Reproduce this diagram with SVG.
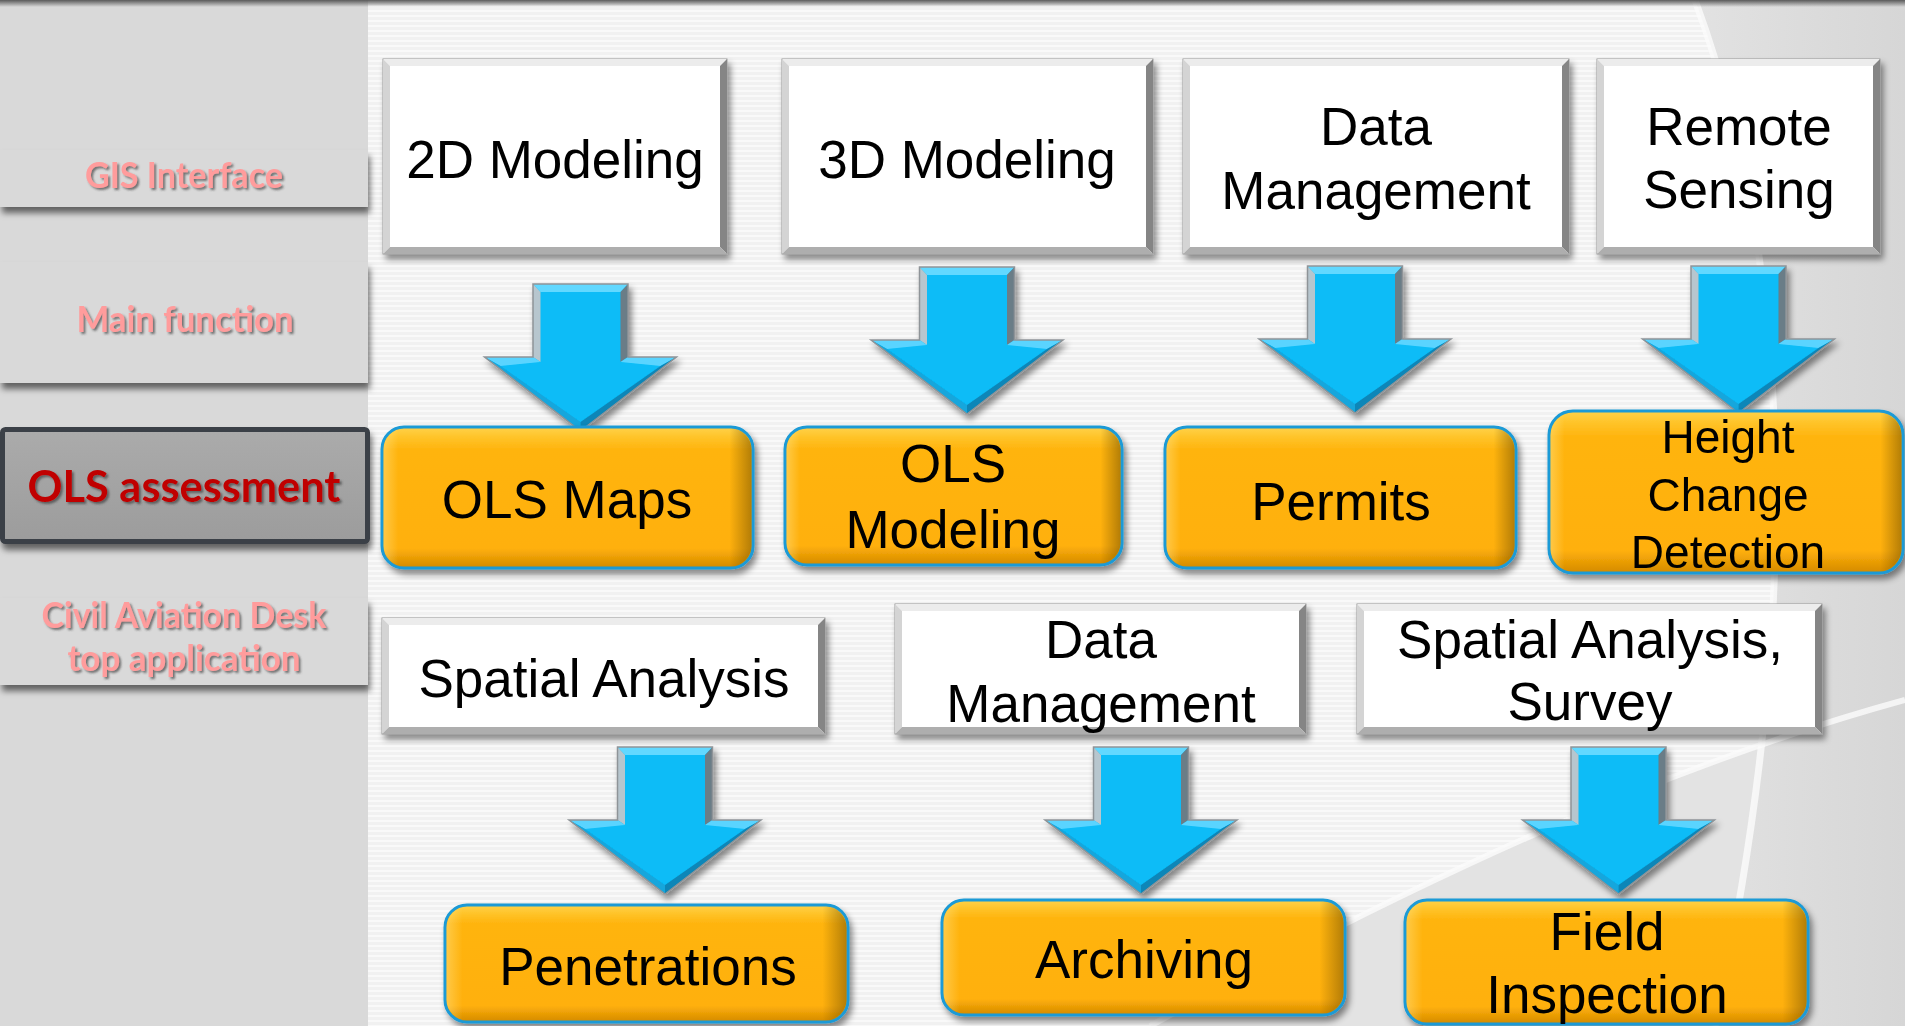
<svg xmlns="http://www.w3.org/2000/svg" xmlns:xlink="http://www.w3.org/1999/xlink" width="1905" height="1026" viewBox="0 0 1905 1026">
<style>
.lbl{font-family:Lato,"Open Sans","Liberation Sans",sans-serif;font-weight:700;text-anchor:middle;fill:#ff9c9c}
.t{font-family:"Liberation Sans",Arial,sans-serif;font-size:53px;text-anchor:middle;fill:#000}
.wb{fill:#fff;stroke:#9a9a9a;stroke-width:1}
.bt{fill:#ececec}.bl{fill:#d4d4d4}.br{fill:#858585}.bb{fill:#aeaeae}
.ob{fill:url(#og);stroke:#1a9ad6;stroke-width:3}
.oh{fill:url(#oh)}
.tile{fill:#d9d9d9}
</style>
<defs>
<pattern id="stripes" width="10" height="5" patternUnits="userSpaceOnUse">
<rect width="10" height="5" fill="#f1f1f1"/>
<rect width="10" height="2" fill="#f9f9f9"/>
</pattern>
<linearGradient id="topband" x1="0" y1="0" x2="0" y2="1">
<stop offset="0" stop-color="#5a5a5a"/>
<stop offset="1" stop-color="#5a5a5a" stop-opacity="0"/>
</linearGradient>
<linearGradient id="swg" x1="0" y1="0" x2="1" y2="0">
<stop offset="0" stop-color="#e2e2e2"/>
<stop offset="1" stop-color="#d6d6d6"/>
</linearGradient>
<linearGradient id="og" x1="0" y1="0" x2="0" y2="1">
<stop offset="0" stop-color="#ffd24a"/>
<stop offset="0.07" stop-color="#ffc42a"/>
<stop offset="0.16" stop-color="#ffb40e"/>
<stop offset="0.86" stop-color="#ffb00b"/>
<stop offset="1" stop-color="#d48a00"/>
</linearGradient>
<linearGradient id="oh" x1="0" y1="0" x2="1" y2="0">
<stop offset="0" stop-color="#fff3b0" stop-opacity="0.35"/>
<stop offset="0.04" stop-color="#fff3b0" stop-opacity="0"/>
<stop offset="0.94" stop-color="#6a4a00" stop-opacity="0"/>
<stop offset="1" stop-color="#6a4a00" stop-opacity="0.5"/>
</linearGradient>
<linearGradient id="olsg" x1="0" y1="0" x2="0" y2="1">
<stop offset="0" stop-color="#ababab"/>
<stop offset="1" stop-color="#9c9c9c"/>
</linearGradient>
<filter id="sh" x="-10%" y="-10%" width="125%" height="135%">
<feDropShadow dx="3" dy="5" stdDeviation="3" flood-color="#000" flood-opacity="0.45"/>
</filter>
<filter id="tsh" x="-10%" y="-20%" width="120%" height="150%">
<feDropShadow dx="2" dy="2" stdDeviation="1.2" flood-color="#3a3a3a" flood-opacity="0.65"/>
</filter>
<filter id="tilesh" x="-5%" y="-20%" width="112%" height="160%">
<feDropShadow dx="2" dy="6" stdDeviation="3" flood-color="#000" flood-opacity="0.55"/>
</filter>
<g id="arrow">
<path d="M-47.5,0 H47.5 V73 H96 L0,147 L-96,73 H-47.5 Z" fill="#07bcf7"/>
<polygon points="-47.5,0 47.5,0 40,8 -40,8" fill="#62d8ff"/>
<polygon points="-47.5,0 -40,8 -40,78 -47.5,73" fill="#b7c6ce"/>
<polygon points="47.5,0 47.5,73 40,78 40,8" fill="#6b7d87"/>
<polygon points="-96,73 -47.5,73 -40,78 -80,82" fill="#5ad4ff"/>
<polygon points="96,73 47.5,73 40,78 80,82" fill="#5ad4ff"/>
<polygon points="-96,73 0,147 0,138 -80,82" fill="#14a6dc"/>
<polygon points="96,73 0,147 0,138 80,82" fill="#0a86b8"/>
<path d="M-47.5,0 H47.5 V73 H96 L0,147 L-96,73 H-47.5 Z" fill="none" stroke="#8f9498" stroke-width="1.5"/>
</g>
</defs>

<!-- background -->
<rect x="0" y="0" width="1905" height="1026" fill="url(#stripes)"/>
<path d="M1150,1026 C1400,890 1650,770 1905,700 L1905,1026 Z" fill="#e3e3e3"/>
<path d="M1695,0 C1780,230 1815,560 1715,1026 L1905,1026 L1905,0 Z" fill="url(#swg)"/>
<path d="M1150,1026 C1400,890 1650,770 1905,700" fill="none" stroke="#fbfbfb" stroke-width="6" opacity="0.8"/>
<path d="M1695,0 C1780,230 1815,560 1715,1026" fill="none" stroke="#fbfbfb" stroke-width="7" opacity="0.8"/>
<rect x="0" y="0" width="368" height="1026" fill="#d9d9d9"/>
<rect x="0" y="0" width="1905" height="7" fill="url(#topband)"/>

<!-- left panel -->
<g id="tile-gis">
<rect class="tile" x="0" y="150" width="368" height="57" filter="url(#tilesh)"/>
<text class="lbl" x="184" y="188" font-size="36" textLength="198" lengthAdjust="spacingAndGlyphs" filter="url(#tsh)">GIS Interface</text>
</g>
<g id="tile-main">
<rect class="tile" x="0" y="262" width="368" height="121" filter="url(#tilesh)"/>
<text class="lbl" x="185" y="332" font-size="36" textLength="217" lengthAdjust="spacingAndGlyphs" filter="url(#tsh)">Main function</text>
</g>
<g id="tile-ols">
<rect x="2.5" y="429.5" width="365" height="112" rx="3" fill="url(#olsg)" stroke="#3b4046" stroke-width="5" filter="url(#tilesh)"/>
<text class="lbl" x="184" y="502" font-size="43" textLength="313" lengthAdjust="spacingAndGlyphs" style="fill:#c00000" filter="url(#tsh)">OLS assessment</text>
</g>
<g id="tile-civil">
<rect class="tile" x="0" y="598" width="368" height="87" filter="url(#tilesh)"/>
<text class="lbl" x="184" y="628" font-size="36" textLength="285" lengthAdjust="spacingAndGlyphs" filter="url(#tsh)">Civil Aviation Desk</text>
<text class="lbl" x="184" y="671" font-size="36" textLength="233" lengthAdjust="spacingAndGlyphs" filter="url(#tsh)">top application</text>
</g>

<!-- white boxes -->
<g id="n-2d">
<rect class="wb" x="383" y="59" width="344" height="195" filter="url(#sh)"/>
<polygon class="bt" points="383,59 727,59 720,66 390,66"/><polygon class="bl" points="383,59 390,66 390,247 383,254"/><polygon class="br" points="727,59 727,254 720,247 720,66"/><polygon class="bb" points="383,254 727,254 720,247 390,247"/>
<text class="t" x="555" y="178">2D Modeling</text>
</g>
<g id="n-3d">
<rect class="wb" x="782" y="59" width="371" height="195" filter="url(#sh)"/>
<polygon class="bt" points="782,59 1153,59 1146,66 789,66"/><polygon class="bl" points="782,59 789,66 789,247 782,254"/><polygon class="br" points="1153,59 1153,254 1146,247 1146,66"/><polygon class="bb" points="782,254 1153,254 1146,247 789,247"/>
<text class="t" x="967" y="178">3D Modeling</text>
</g>
<g id="n-dm1">
<rect class="wb" x="1183" y="59" width="386" height="195" filter="url(#sh)"/>
<polygon class="bt" points="1183,59 1569,59 1562,66 1190,66"/><polygon class="bl" points="1183,59 1190,66 1190,247 1183,254"/><polygon class="br" points="1569,59 1569,254 1562,247 1562,66"/><polygon class="bb" points="1183,254 1569,254 1562,247 1190,247"/>
<text class="t" x="1376" y="145">Data</text>
<text class="t" x="1376" y="209">Management</text>
</g>
<g id="n-rs">
<rect class="wb" x="1597" y="59" width="283" height="195" filter="url(#sh)"/>
<polygon class="bt" points="1597,59 1880,59 1873,66 1604,66"/><polygon class="bl" points="1597,59 1604,66 1604,247 1597,254"/><polygon class="br" points="1880,59 1880,254 1873,247 1873,66"/><polygon class="bb" points="1597,254 1880,254 1873,247 1604,247"/>
<text class="t" x="1739" y="145">Remote</text>
<text class="t" x="1739" y="208">Sensing</text>
</g>
<g id="n-sa">
<rect class="wb" x="382" y="618" width="443" height="116" filter="url(#sh)"/>
<polygon class="bt" points="382,618 825,618 818,625 389,625"/><polygon class="bl" points="382,618 389,625 389,727 382,734"/><polygon class="br" points="825,618 825,734 818,727 818,625"/><polygon class="bb" points="382,734 825,734 818,727 389,727"/>
<text class="t" x="604" y="697">Spatial Analysis</text>
</g>
<g id="n-dm2">
<rect class="wb" x="895" y="604" width="411" height="130" filter="url(#sh)"/>
<polygon class="bt" points="895,604 1306,604 1299,611 902,611"/><polygon class="bl" points="895,604 902,611 902,727 895,734"/><polygon class="br" points="1306,604 1306,734 1299,727 1299,611"/><polygon class="bb" points="895,734 1306,734 1299,727 902,727"/>
<text class="t" x="1101" y="658">Data</text>
<text class="t" x="1101" y="722">Management</text>
</g>
<g id="n-sas">
<rect class="wb" x="1357" y="604" width="465" height="130" filter="url(#sh)"/>
<polygon class="bt" points="1357,604 1822,604 1815,611 1364,611"/><polygon class="bl" points="1357,604 1364,611 1364,727 1357,734"/><polygon class="br" points="1822,604 1822,734 1815,727 1815,611"/><polygon class="bb" points="1357,734 1822,734 1815,727 1364,727"/>
<text class="t" x="1590" y="658">Spatial Analysis,</text>
<text class="t" x="1590" y="720">Survey</text>
</g>

<!-- connectors -->
<g id="connectors" filter="url(#sh)">
<use href="#arrow" xlink:href="#arrow" transform="translate(580.5,284)"/>
<use href="#arrow" xlink:href="#arrow" transform="translate(967,267)"/>
<use href="#arrow" xlink:href="#arrow" transform="translate(1355,266)"/>
<use href="#arrow" xlink:href="#arrow" transform="translate(1738.5,266)"/>
<use href="#arrow" xlink:href="#arrow" transform="translate(665,747)"/>
<use href="#arrow" xlink:href="#arrow" transform="translate(1141,747)"/>
<use href="#arrow" xlink:href="#arrow" transform="translate(1618.5,747)"/>
</g>

<!-- orange boxes -->
<g id="n-olsmaps">
<rect class="ob" x="382" y="427" width="371" height="141" rx="22" filter="url(#sh)"/>
<rect class="oh" x="383.5" y="428.5" width="368" height="138" rx="21"/>
<text class="t" x="567" y="518">OLS Maps</text>
</g>
<g id="n-olsmod">
<rect class="ob" x="785" y="427" width="337" height="138" rx="22" filter="url(#sh)"/>
<rect class="oh" x="786.5" y="428.5" width="334" height="135" rx="21"/>
<text class="t" x="953" y="482">OLS</text>
<text class="t" x="953" y="548">Modeling</text>
</g>
<g id="n-permits">
<rect class="ob" x="1165" y="427" width="351" height="141" rx="22" filter="url(#sh)"/>
<rect class="oh" x="1166.5" y="428.5" width="348" height="138" rx="21"/>
<text class="t" x="1341" y="520">Permits</text>
</g>
<g id="n-hcd">
<rect class="ob" x="1549" y="411" width="354" height="162" rx="24" filter="url(#sh)"/>
<rect class="oh" x="1550.5" y="412.5" width="351" height="159" rx="23"/>
<text class="t" x="1728" y="453" style="font-size:46px">Height</text>
<text class="t" x="1728" y="511" style="font-size:46px">Change</text>
<text class="t" x="1728" y="568" style="font-size:46px">Detection</text>
</g>
<g id="n-pen">
<rect class="ob" x="445" y="905" width="403" height="117" rx="22" filter="url(#sh)"/>
<rect class="oh" x="446.5" y="906.5" width="400" height="114" rx="21"/>
<text class="t" x="648" y="985">Penetrations</text>
</g>
<g id="n-arch">
<rect class="ob" x="942" y="900" width="403" height="115" rx="22" filter="url(#sh)"/>
<rect class="oh" x="943.5" y="901.5" width="400" height="112" rx="21"/>
<text class="t" x="1144" y="978">Archiving</text>
</g>
<g id="n-field">
<rect class="ob" x="1405" y="900" width="403" height="124" rx="22" filter="url(#sh)"/>
<rect class="oh" x="1406.5" y="901.5" width="400" height="121" rx="21"/>
<text class="t" x="1607" y="950">Field</text>
<text class="t" x="1607" y="1013">Inspection</text>
</g>
</svg>
